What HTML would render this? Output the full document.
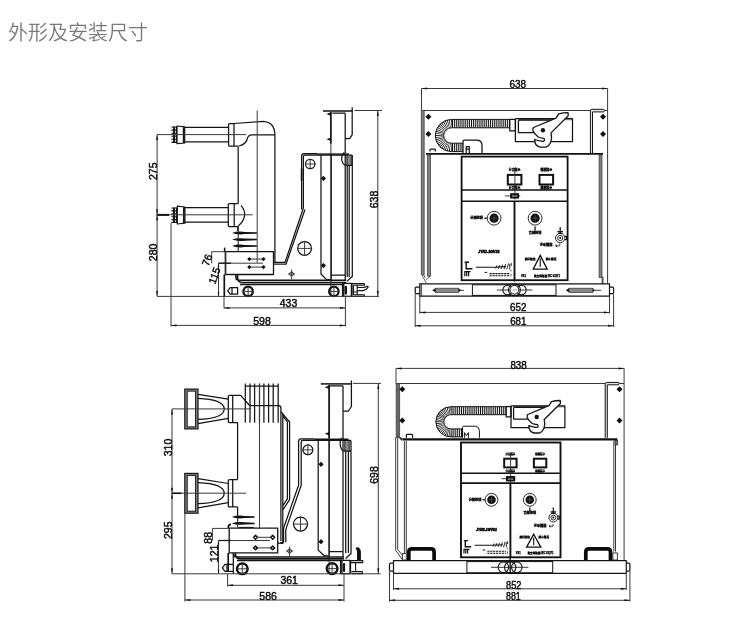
<!DOCTYPE html>
<html lang="zh">
<head>
<meta charset="utf-8">
<title>外形及安装尺寸</title>
<style>
html,body{margin:0;padding:0;background:#fff;}
body{width:730px;height:620px;overflow:hidden;position:relative;font-family:"Liberation Sans","Noto Sans CJK SC",sans-serif;}
h1{position:absolute;left:7.5px;top:18.8px;margin:0;font-size:20px;line-height:28px;font-weight:350;color:#7a7a7a;letter-spacing:0;white-space:nowrap;will-change:transform;}
svg{position:absolute;left:0;top:0;will-change:transform;}
.k{fill:none;stroke:#141414;stroke-width:1.25;stroke-linecap:butt;stroke-linejoin:round;}
.t{fill:none;stroke:#3a3a3a;stroke-width:1;}
.g{fill:none;stroke:#3a3a3a;stroke-width:1;}
.h{fill:none;stroke:#111;stroke-width:.55;}
.m{font-family:"Liberation Sans","Noto Sans CJK SC",sans-serif;font-size:3.2px;font-weight:700;fill:#000;stroke:#000;stroke-width:.25;text-anchor:middle;}
.b{fill:none;stroke:#111;stroke-width:1.7;}
.f{fill:#111;stroke:none;}
.d{font-family:"Liberation Sans",sans-serif;font-size:10.5px;fill:#0a0a0a;stroke:#0a0a0a;stroke-width:.42;text-anchor:middle;}
</style>
</head>
<body>
<h1>外形及安装尺寸</h1>
<svg width="730" height="620" viewBox="0 0 730 620">
<!-- ================= VIEW 1 : top-left side view ================= -->
<g id="v1">
<!-- upper arm -->
<path class="k" d="M171.4 127.0H177 M171.4 130.1H177 M171.4 133.2H177 M171.4 136.3H177 M171.4 139.3H177 M171.4 142.4H177 M176.4 126.6V142.8" style="stroke-width:1.1"/>
<path class="b" d="M174 126.8V142.6" style="stroke-width:1.9"/>
<path class="k" d="M177 126L184.7 126.8V143L177 143.7Z M183.4 126.7V143.1"/>
<path class="k" d="M184.7 127.4H228.6 M184.7 141.8H228.6"/>
<path class="k" d="M234 123.5H229.6Q228.6 123.5 228.6 124.5V145.2Q228.6 146.2 229.6 146.2H238.2 M234 123.5V146.2"/>
<path class="k" d="M234 123.5L263 121.3Q274.6 122 274.9 134.5V263"/>
<path class="k" d="M239 146Q246 144 247.2 139Q248 135 252 134.9H274.9"/>
<path class="k" d="M238.2 146.2V203.5"/>
<!-- lower arm -->
<path class="k" d="M171.4 208.0H177.3 M171.4 210.9H177.3 M171.4 213.8H177.3 M171.4 216.7H177.3 M171.4 219.6H177.3 M171.4 222.4H177.3 M176.5 207.6V222.8" style="stroke-width:1.1"/>
<path class="b" d="M174 207.8V222.6" style="stroke-width:1.9"/>
<path class="k" d="M177.3 206.2L184.9 207V223.2L177.3 224Z M183.6 206.9V223.3"/>
<path class="k" d="M184.9 207.6H228.3 M184.9 222.1H228.3"/>
<path class="k" d="M238.3 203.5H229.3Q228.3 203.5 228.3 204.5V225.5Q228.3 226.5 229.3 226.5H237.8 M234.2 203.5V226.5"/>
<path class="k" d="M241 205.3Q245.4 210.5 244.6 215.6Q243.6 221.6 238.3 225.8"/>
<path class="k" d="M237.8 226.5V231"/>
<!-- spring -->
<path class="f" d="M232.1 233Q237.1 230.9 245.1 231.9L256.9 232.25V233.75L245.1 234.1Q237.1 235.1 232.1 233Z"/>
<path class="f" d="M232.1 239.6Q237.1 237.5 245.1 238.5L256.9 238.85V240.35L245.1 240.7Q237.1 241.7 232.1 239.6Z"/>
<path class="f" d="M232.1 246Q237.1 243.9 245.1 244.9L256.9 245.25V246.75L245.1 247.1Q237.1 248.1 232.1 246Z"/>
<path class="k" d="M238.2 226V251.5" style="stroke-width:1"/>
<!-- centre lines -->
<path class="t" d="M157.1 134.6H246 M157.1 214.8H252.7 M257.2 110.5V262.8 M330.9 143V296"/>
<path class="k" d="M156.6 214.9H169" style="stroke-width:2"/>
<!-- box 76/115 -->
<rect class="k" x="225.3" y="251.7" width="48.2" height="22.8" style="stroke-width:1.3"/>
<path class="t" d="M211.7 251.7H225.3 M211.7 251.7V263.4 M218.5 263.2H263 M218.5 263.2V296.4 M225.9 251.7V274.5 M249.3 259.1H263.5 M249.3 267.1H263.5"/>
<path class="k" d="M218.5 263.2H231"/>
<path class="f" d="M249.3 257l2.1 2.1-2.1 2.1-2.1-2.1z M263.5 257l2.1 2.1-2.1 2.1-2.1-2.1z M249.3 265l2.1 2.1-2.1 2.1-2.1-2.1z M263.5 265l2.1 2.1-2.1 2.1-2.1-2.1z"/>
<path class="b" d="M224.6 247.6V251.8" style="stroke-width:1.5"/>
<!-- link from box to mechanism -->
<path class="k" d="M273.5 262.4H285 L303.4 208 M273.5 264.2H286 L305 209.5"/>
<!-- mechanism housing -->
<path class="k" d="M303.4 208V156.5Q303.4 155.2 304.8 155.2H352.1 M301.6 209.5V156Q301.6 153.6 304 153.6H317"/>
<path class="b" d="M317 154.1H349" style="stroke-width:1.4"/>
<path class="b" d="M301.6 168.5V180.6"/>
<circle class="k" cx="310.2" cy="164" r="4.7"/>
<path class="t" d="M305 164H315.4 M310.2 158.8V169.2"/>
<circle class="k" cx="304.6" cy="248.4" r="6.9"/>
<path class="t" d="M297 248.4H312.2 M304.6 240.8V256"/>
<circle class="t" cx="291.6" cy="274" r="2"/>
<path class="t" d="M288 274H295.2 M291.6 269.5V279.5"/>
<path class="k" d="M321 155.2V274L326.5 279.6H331 M331.2 155V279.6 M331.2 275.2H345"/>
<path class="f" d="M323.4 175.8l2.6 2.6-2.6 2.6-2.6-2.6z M323.4 263l2.6 2.6-2.6 2.6-2.6-2.6z"/>
<path class="k" d="M345.2 113.2V281 M347.2 165.3V277 M349.2 165.3V277 M352.3 155V276.5L346.8 281.4"/>
<path class="h" d="M346.3 155.6V165.3 M347.6 155.6V165.3 M348.9 155.6V165.3 M350.2 155.6V165.3 M351.4 155.6V165.3" style="stroke-width:.8"/>
<path class="k" d="M344.2 152.4Q341 156 341.8 160Q342.6 165.3 346.5 165.3H352.3"/>
<!-- top bracket -->
<path class="b" d="M323 111H352.6" style="stroke-width:1.5"/>
<path class="b" d="M330.9 112V143.5"/>
<path class="k" d="M352.2 107.3V134.7L349.7 138.7H345.4 M332.3 113.2H345.4"/>
<path class="f" d="M330.9 112.3v3.6l-4.4-1.8z M330.9 137.5v3.6l-4.4-1.8z"/>
<!-- chassis -->
<path class="b" d="M224.3 274.5V296.4"/>
<path class="k" d="M235.8 274.5V277Q235.8 280.2 239 280.2H346 M237.6 274.5V277.5Q237.6 282.4 242 282.4H346 M240 284.6H343" style="stroke-width:1.5"/>
<path class="k" d="M227.7 290.8L230.2 287.6H237.6V294.2H230.2Z M232 287.6V294.2"/>
<circle class="b" cx="248.1" cy="291.4" r="4.7" style="stroke-width:2.3"/>
<path class="t" d="M243 291.4H253.2 M248.1 286.3V296.5"/>
<circle class="b" cx="333.9" cy="291.4" r="4.7" style="stroke-width:2.3"/>
<path class="t" d="M329 291.4H339 M333.9 286.3V296.5"/>
<path class="k" d="M342.5 283.4H351.4V296.3H342.5Z M343.8 283.4V296.3"/>
<path class="b" d="M345.8 287V293.4" style="stroke-width:2.4;stroke-linecap:round"/>
<path class="k" d="M352 283.6H364.4V285.3H353.4 M352 283.6V296.5H364.4V294.9H353.4 M353.4 285.3V294.9 M357.2 285.3V294.9 M353.4 292H357.2 M357.2 287.5H362.5Q365.5 287.3 367 286.2Q368.6 286 368 287.4Q366.4 290 363 290.6H357.2" style="stroke-width:1.1"/>
<!-- ground + dims -->
<path class="t" d="M157.1 296.4H379 M157.1 134.6V296.4 M171 223V326.5 M224 296V308.5 M345.4 296V326.5 M224 307.9H345.4 M171 325.4H345.4 M354.5 110.5H382 M377.8 110.5V296.4"/>
<path class="f" d="M157.1 134.6l-1 5.5h2z M157.1 214.8l-1-5.5h2z M157.1 214.8l-1 5.5h2z M157.1 296.4l-1-5.5h2z M224 307.9l5.5-1v2z M345.4 307.9l-5.5-1v2z M171 325.4l5.5-1v2z M345.4 325.4l-5.5-1v2z M377.8 110.5l-1 5.5h2z M377.8 296.4l-1-5.5h2z M218.5 263.2l-.9 4h1.8z M218.5 296.4l-.9-4h1.8z"/>
<text class="d" transform="translate(156.7 171.2) rotate(-90)">275</text>
<text class="d" transform="translate(156.7 252.4) rotate(-90)">280</text>
<text class="d" transform="translate(378.2 199.5) rotate(-90)">638</text>
<text class="d" x="288.5" y="307.4">433</text>
<text class="d" x="262" y="324.8">598</text>
<text class="d" transform="translate(210.6 261.2) rotate(-70)">76</text>
<text class="d" transform="translate(217.8 276.8) rotate(-70)">115</text>
</g>

<!-- ================= VIEW 2 : top-right front view ================= -->
<g id="v2">
<!-- outer frame / side plates -->
<path class="t" d="M421.5 110.5H607.6 M607.6 88.5V283.6 M421.5 88.5V110.5"/>
<path d="M421.3 110.5H424.2V274.6H421.3Z" fill="#808080" stroke="#333" stroke-width=".7"/>
<path class="g" d="M421.8 274.6L426.2 283 M423.6 274.6L425.2 278 M430 276.3L426.2 279.8" style="stroke-width:.8"/>
<path d="M427.4 155H430.5V276.3H427.4Z" fill="#808080" stroke="#333" stroke-width=".7"/>
<path d="M599.1 155H602V276.9H603.1V283.7H602V277.6H599.1Z" fill="#808080" stroke="#333" stroke-width=".7"/>
<path class="f" d="M428.4 113.7l3 3-3 3-3-3z M428.4 131.0l3 3-3 3-3-3z M603.0 113.7l3 3-3 3-3-3z M603.0 131.0l3 3-3 3-3-3z"/>
<path d="M590.4 153V110.8Q590.4 109.3 591.9 109.3H603.3Q604.4 109.3 604.4 110.6Q604.4 111.9 603.3 111.9H592.5V153" fill="#e4e4e4" stroke="#141414" stroke-width="1"/>
<path class="k" d="M430 151.6V149.6Q430 149 430.8 149H434.6Q435.3 149 435.3 149.8V151.6"/>
<!-- hose -->
<path class="h" d="M452.5 119.4V127.8M454.4 119.4V127.8M456.3 119.4V127.8M458.2 119.4V127.8M460.1 119.4V127.8M462.0 119.4V127.8M463.9 119.4V127.8M465.8 119.4V127.8M467.7 119.4V127.8M469.6 119.4V127.8M471.5 119.4V127.8M473.4 119.4V127.8M475.3 119.4V127.8M477.2 119.4V127.8M479.1 119.4V127.8M481.0 119.4V127.8M482.9 119.4V127.8M484.8 119.4V127.8M486.7 119.4V127.8M488.6 119.4V127.8M490.5 119.4V127.8M492.4 119.4V127.8M494.3 119.4V127.8M496.2 119.4V127.8M498.1 119.4V127.8M500.0 119.4V127.8M501.9 119.4V127.8M503.8 119.4V127.8M505.7 119.4V127.8M507.6 119.4V127.8M509.5 119.4V127.8M452.5 143.2V151.6M454.4 143.2V151.6M456.3 143.2V151.6M458.2 143.2V151.6M460.1 143.2V151.6M462.0 143.2V151.6" style="stroke-width:1.0"/>
<path class="f" d="M451.20 127.80L450.92 119.40L451.88 119.40L451.60 127.80ZM450.20 127.89L448.82 119.60L449.77 119.48L450.59 127.84ZM449.21 128.11L446.77 120.07L447.70 119.82L449.60 128.01ZM448.27 128.46L444.80 120.81L445.68 120.44L448.64 128.31ZM447.38 128.93L442.93 121.80L443.77 121.32L447.72 128.73ZM446.55 129.51L441.22 123.02L441.98 122.43L446.87 129.27ZM445.81 130.20L439.68 124.45L440.35 123.78L446.10 129.91ZM445.17 130.97L438.33 126.08L438.92 125.32L445.41 130.65ZM444.63 131.82L437.22 127.87L437.70 127.03L444.83 131.48ZM444.21 132.74L436.34 129.78L436.71 128.90L444.36 132.37ZM443.91 133.70L435.72 131.80L435.97 130.87L444.01 133.31ZM443.74 134.69L435.38 133.87L435.50 132.92L443.79 134.30ZM443.70 135.70L435.30 135.98L435.30 135.02L443.70 135.30ZM443.79 136.70L435.50 138.08L435.38 137.13L443.74 136.31ZM444.01 137.69L435.97 140.13L435.72 139.20L443.91 137.30ZM444.36 138.63L436.71 142.10L436.34 141.22L444.21 138.26ZM444.83 139.52L437.70 143.97L437.22 143.13L444.63 139.18ZM445.41 140.35L438.92 145.68L438.33 144.92L445.17 140.03ZM446.10 141.09L440.35 147.22L439.68 146.55L445.81 140.80ZM446.87 141.73L441.98 148.57L441.22 147.98L446.55 141.49ZM447.72 142.27L443.77 149.68L442.93 149.20L447.38 142.07ZM448.64 142.69L445.68 150.56L444.80 150.19L448.27 142.54ZM449.60 142.99L447.70 151.18L446.77 150.93L449.21 142.89ZM450.59 143.16L449.77 151.52L448.82 151.40L450.20 143.11ZM451.60 143.20L451.88 151.60L450.92 151.60L451.20 143.20Z"/>
<path class="k" d="M509.6 119.4H451.4A16.1 16.1 0 0 0 451.4 151.6H463.2 M509.6 127.8H451.4A7.7 7.7 0 0 0 451.4 143.2H463.2" style="stroke-width:1"/>
<!-- hose connector -->
<path class="k" d="M463 153V141.6Q463 140.1 464.5 140.1H477.5Q482 140.6 482 145.5V153 M466.2 153V146.5H469.3V153 M466.2 149.2H469.3"/>
<!-- mechanism on top -->
<rect class="k" x="509.8" y="119.4" width="5.6" height="11.5"/>
<rect x="518.4" y="118.7" width="54" height="1.6" fill="#9a9a9a"/>
<path class="k" d="M515.4 118.7H554.4 M566 118.7H572.5V141.6H551.1 M535.3 141.6H515.4V118.7 M518.4 120.2V132.5H534.6 M518.4 120.2H551"/>
<path class="k" d="M533.5 127.5L556 118.2L558.7 113.8Q563 112.7 568 112.6Q568.6 114.4 568 116L551 132.9L551.6 137.9L550.5 142.8Q549 146 546.1 147.2H540.1Q536 146 535.1 142.8L534.6 139.5Q538 140.8 541.7 141.2Q544.5 141.6 544.5 140Q544.4 138.6 543.9 138.4Q539.5 138 537.9 136.8Q534.2 133.6 532.9 130.8Q532.5 128.6 533.5 127.5Z" style="fill:#fff;stroke-width:1.3"/>
<circle class="f" cx="542.9" cy="130.2" r="2.2"/>
<!-- top rail of lower frame -->
<path class="b" d="M426 153.9H603" style="stroke-width:1.9"/>
<!-- front panel -->
<rect class="b" x="461.6" y="156.6" width="106" height="123.6" style="stroke-width:1.8"/>
<path class="b" d="M461.6 190H567.6 M461.6 201.3H567.6" style="stroke-width:1.6"/>
<path class="b" d="M514.5 201.3V281.4" style="stroke-width:1.9"/>
<rect class="b" x="507.8" y="174.9" width="13.6" height="9.6" style="stroke-width:2"/>
<rect class="b" x="539.5" y="174.9" width="13.6" height="9.6" style="stroke-width:2"/>
<path class="t" d="M514.9 168V199.5 M505 195.9H520.2"/>
<rect class="b" x="511.1" y="194.2" width="7" height="3.4" style="stroke-width:1.9"/>
<text class="m" style="font-size:2.9px" x="514.6" y="170.8">分合指示</text>
<text class="m" style="font-size:2.9px" x="514.6" y="188.7">分合指示</text>
<text class="m" style="font-size:2.9px" x="546.3" y="170.8">储能指示</text>
<text class="m" style="font-size:2.9px" x="546.3" y="188.7">储能指示</text>
<!-- push buttons -->
<circle class="k" cx="494.1" cy="218.2" r="6.9" style="stroke-width:.9"/>
<circle class="f" cx="494.1" cy="218.2" r="4.6"/>
<path d="M491.2 218.2H497 M494.1 215.3V221.1" stroke="#666" stroke-width=".6"/>
<circle class="k" cx="535.1" cy="218.2" r="6.9" style="stroke-width:.9"/>
<circle class="f" cx="535.1" cy="218.2" r="4.6"/>
<path d="M532.2 218.2H538 M535.1 215.3V221.1" stroke="#666" stroke-width=".6"/>
<text class="m" x="476.6" y="219.3">分闸按钮</text>
<path class="k" d="M484.2 218.2H487"/>
<path class="k" d="M535.1 226.5V230.5"/>
<text class="m" x="535.1" y="233.8">合闸按钮</text>
<!-- key lock -->
<circle class="k" cx="560.2" cy="238" r="4.7" style="stroke-width:.9"/>
<circle class="k" cx="560.2" cy="238" r="2.6" style="stroke-width:.9"/>
<circle class="f" cx="560.2" cy="238" r="1"/>
<path class="k" d="M560.2 227V233 M557.4 231.6H563 M558 233.4H562.4 M564.8 236.4H566.6V239.6H564.8"/>
<text class="m" x="546" y="246.4">手动储能</text>
<path class="k" d="M555.6 245.8H559.8V243.4 M555.6 245.8L557.2 244.6 M555.6 245.8L557.2 247" style="stroke-width:.8"/>
<!-- labels -->
<text class="m" x="489" y="252.9" style="font-size:3px;font-style:italic;stroke-width:.4" textLength="21.6" lengthAdjust="spacingAndGlyphs">JYN2-10/VS1</text>
<path class="b" d="M464.6 262.2H469 M466.2 262.2V268.8H472.4" style="stroke-width:1.4"/>
<path class="b" d="M464.8 271.4V276.2 M466.7 271.4V276.2 M468.6 271.4V276.2 M464.4 271.6H470.6" style="stroke-width:1.2"/>
<path class="b" d="M476 267.2H495L506 266.6" style="stroke-width:1.1"/>
<path class="b" d="M495.6 268.6L497 265.4 M498.4 268.8L499.8 265 M501.2 269L502.6 264.6 M504 269.2L505.6 264 M506.8 269.4L508.6 263.4 M509.8 264V269.6 M511.2 263V266" style="stroke-width:.9"/>
<path class="b" d="M484.6 272.4H487.2" style="stroke-width:1"/>
<path class="b" d="M489.6 273.6H509.4 M489.6 275.8H509.4" style="stroke-width:1.1;stroke-dasharray:2.2 .7"/>
<path class="b" d="M511 270V271.4 M511 274V276.4" style="stroke-width:.7"/>
<path class="b" d="M540.2 255.4L547.2 269.2H533.2Z" style="stroke-width:1.3"/>
<path class="b" d="M540.2 258.6V267" style="stroke-width:1.1"/>
<text class="m" x="530" y="260" style="font-size:2.7px">高压危险</text>
<text class="m" x="551" y="260" style="font-size:2.7px">禁止靠近</text>
<text class="m" x="523.4" y="277" style="font-size:2.6px">VS1</text>
<text class="m" x="547" y="277" style="font-size:2.6px">真空断路器 IEC 62271</text>
<!-- base -->
<path class="k" d="M419.8 283.8H609.5V296.2H419.8Z" style="stroke-width:1.2"/>
<path d="M419.4 283.8H421.6V296.2H419.4Z" fill="#777" stroke="#222" stroke-width=".6"/>
<path class="k" d="M419.8 287.1H416.4Q415.2 287.1 415.2 288.3V292.5Q415.2 293.7 416.4 293.7H419.8 M609.5 287.1H612.4Q613.6 287.1 613.6 288.3V292.5Q613.6 293.7 612.4 293.7H609.5"/>
<rect class="b" x="472.4" y="284.8" width="83.6" height="10.6" style="stroke-width:1"/>
<path class="f" d="M432.2 290.3L435.8 288V292.6Z M461.3 290.3L458.4 288V292.6Z M565.8 290.3L569.2 288V292.6Z M595 290.3L592.6 288V292.6Z"/>
<rect x="435.6" y="288.2" width="23" height="4.2" fill="#8a8a8a" stroke="#333" stroke-width=".7"/>
<rect x="569" y="288.2" width="23.8" height="4.2" fill="#8a8a8a" stroke="#333" stroke-width=".7"/>
<path class="t" d="M461 290.3H464 M594.8 290.3H601"/>
<path class="t" d="M497 290H532.3"/>
<circle class="k" cx="507.6" cy="290" r="4.8" style="stroke-width:1.1"/>
<circle class="k" cx="521.4" cy="290" r="4.8" style="stroke-width:1.1"/>
<circle class="k" cx="514.4" cy="289.8" r="6" style="stroke-width:1.1"/>
<circle class="k" cx="514.4" cy="289.8" r="4.4" style="stroke-width:1;fill:#fff"/>
<path class="t" d="M511.6 290H517.2" style="stroke:#888;stroke-width:.7"/>
<!-- dims -->
<path class="t" d="M421.5 88.5H607.6 M419.8 296.2V313.5 M609.5 296.2V313.5 M415.2 293.7V327 M613.6 293.7V327 M419.8 312.4H609.5 M415.2 325.8H613.6"/>
<path class="f" d="M421.5 88.5l5.5-1v2z M607.6 88.5l-5.5-1v2z M419.8 312.4l5.5-1v2z M609.5 312.4l-5.5-1v2z M415.2 325.8l5.5-1v2z M613.6 325.8l-5.5-1v2z"/>
<text class="d" x="517.8" y="88.2" textLength="16.6" lengthAdjust="spacingAndGlyphs">638</text>
<text class="d" x="518.3" y="311.4" textLength="16.4" lengthAdjust="spacingAndGlyphs">652</text>
<text class="d" x="518.3" y="324.9" textLength="16.2" lengthAdjust="spacingAndGlyphs">681</text>
</g>

<!-- ================= VIEW 3 : bottom-left side view ================= -->
<g id="v3">
<!-- upper contact -->
<rect x="184.8" y="389.1" width="13.2" height="39.8" fill="#8a8a8a" stroke="#141414" stroke-width="1.2"/>
<rect x="187.2" y="391.1" width="8.4" height="35.8" fill="#fff" stroke="#141414" stroke-width="1"/>
<path class="k" d="M198 394.4L228.3 399.2 M198 423.6L228.3 418.4 M198 398.3Q224.2 399.4 224.2 408.9Q224.2 418.4 198 419.4"/>
<path class="k" d="M229.3 395.3Q228.3 395.3 228.3 396.3V421.6Q228.3 422.6 229.3 422.6H237.6 M232.7 395.3V422.6"/>
<path class="k" d="M229.3 395.3H240.6L249.6 405.5H278.5Q280.9 405.5 280.9 408V541 M237.6 422.6V479.6"/>
<path class="k" d="M245.3 383.6V422.7 M250 383.6V422.7 M254.6 383.6V422.7 M259.5 383.6V422.7 M263.9 383.6V422.7 M268.6 383.6V422.7 M273.2 383.6V422.7 M278.2 383.6V422.7 M244.8 386H278.7"/>
<!-- lower contact -->
<rect x="184.8" y="473.4" width="13.2" height="39.8" fill="#8a8a8a" stroke="#141414" stroke-width="1.2"/>
<rect x="187.2" y="475.4" width="8.4" height="35.8" fill="#fff" stroke="#141414" stroke-width="1"/>
<path class="k" d="M198 478.7L228.3 483.5 M198 507.9L228.3 502.7 M198 482.6Q224.2 483.7 224.2 493.2Q224.2 502.7 198 503.7"/>
<path class="k" d="M229.3 479.6Q228.3 479.6 228.3 480.6V505.9Q228.3 506.9 229.3 506.9H237.6 M232.7 479.6V506.9"/>
<path class="k" d="M229.3 479.6H237.6 M237.6 506.9V515"/>
<!-- spring -->
<path class="f" d="M231.8 517Q236.8 514.9 244.8 515.9L254.6 516.25V517.75L244.8 518.1Q236.8 519.1 231.8 517Z"/>
<path class="f" d="M231.8 523.4Q236.8 521.3 244.8 522.3L254.6 522.65V524.15L244.8 524.5Q236.8 525.5 231.8 523.4Z"/>
<path class="k" d="M237.7 515V528.2 M239 527.4H254" style="stroke-width:1"/>
<path class="b" d="M231 524.4Q228.2 524.4 228.2 528.2"/>
<!-- centre lines -->
<path class="t" d="M172 408.9H251.2 M172 493.2H246.2 M259.5 384.6V528 M329.1 438.6V573.8"/>
<path class="k" d="M171.6 493.3H181.4" style="stroke-width:1.5"/>
<!-- box 88/121 -->
<rect class="k" x="229.2" y="528.2" width="48.5" height="24.7" style="stroke-width:1.3"/>
<path class="t" d="M212.4 528.4H229.2 M212.4 528.4V540.5 M218.5 540.5H270 M218.5 540.5V573.8 M255.5 537.3H272.7 M255.5 547.9H272.7"/>
<path class="k" d="M218.5 540.5H231"/>
<path class="k" d="M255.5 535.4l1.9 1.9-1.9 1.9-1.9-1.9z M272.7 535.4l1.9 1.9-1.9 1.9-1.9-1.9z M255.5 546.0l1.9 1.9-1.9 1.9-1.9-1.9z M272.7 546.0l1.9 1.9-1.9 1.9-1.9-1.9z" style="stroke-width:1.5;fill:#fff"/>
<!-- cover on column -->
<path class="k" d="M280.9 411.6L289.6 422V499.6L282.8 510 M282.3 415.4L287.4 421.8V498.6L282.8 506 M282.8 413V543"/>
<path class="b" d="M280.2 543H283.4" style="stroke-width:2"/>
<path class="k" d="M277.7 543.2H280.4"/>
<!-- mechanism housing -->
<path class="k" d="M301.2 485.3V442.2Q301.2 440.4 302.8 440.4H351 M298.6 485.3V441.6Q298.6 438.8 301.4 438.8H314.5 M298.6 485.3L283.6 528V542.2 M301.2 485.3L285.8 529.4V542.2"/>
<path class="b" d="M314.5 439.2H348.4" style="stroke-width:1.4"/>
<circle class="k" cx="307.9" cy="449.8" r="4.9"/>
<path class="t" d="M302.4 449.8H313.4 M307.9 444.3V455.3"/>
<circle class="k" cx="300.5" cy="524.1" r="7"/>
<path class="t" d="M292.8 524.1H308.2 M300.5 516.4V531.8"/>
<circle class="t" cx="289.6" cy="551" r="2"/>
<path class="t" d="M286 551H293.2 M289.6 546.5V556.5"/>
<path class="k" d="M318.2 440.4V550.1L324.2 555.8H329 M329.1 440.4V555.8 M329.1 551.7H342.8"/>
<path class="f" d="M321 461.7l2.6 2.6-2.6 2.6-2.6-2.6z M321 539.1l2.6 2.6-2.6 2.6-2.6-2.6z"/>
<path class="k" d="M343 385.7V557 M345.7 451V553 M348.4 451V553 M351 440.4V553.5L345.6 558.5"/>
<path class="h" d="M344.4 440.6V451 M345.7 440.6V451 M347 440.6V451 M348.3 440.6V451 M349.6 440.6V451" style="stroke-width:.8"/>
<path class="k" d="M341.4 437.7Q339.6 441 340.2 445Q341.2 451 344.4 451H351"/>
<!-- top bracket -->
<path class="b" d="M320.8 383.9H351.9" style="stroke-width:1.5"/>
<path class="b" d="M329.1 385V438.6"/>
<path class="k" d="M351.4 380.4V406.5L348.4 411H343 M330 385.8H343"/>
<path class="f" d="M329.1 385.4v3.6l-4.4-1.8z M329.1 432v3.6l-4.4-1.8z"/>
<!-- chassis -->
<path class="b" d="M228.2 553V572" style="stroke-width:1.6"/>
<path class="k" d="M233.6 553V554Q233.6 557 236.6 557H344 M235.6 553V554.6Q235.6 558.8 240 558.8H344 M237 560.6H341.8" style="stroke-width:1.5"/>
<path class="k" d="M222.3 567.8L225 564.4H233.3V571.4H225Z M227 564.4V571.4 M233.3 553V573.8"/>
<circle class="b" cx="242.3" cy="568.8" r="5.3" style="stroke-width:2.5"/>
<path class="t" d="M237 568.8H247.6 M242.3 563.5V574.1"/>
<circle class="b" cx="332.1" cy="568.6" r="5.3" style="stroke-width:2.5"/>
<path class="t" d="M327 568.6H337.4 M332.1 563.3V573.9"/>
<path class="k" d="M340.6 560.4H350V573.6H340.6Z M342 560.4V573.6"/>
<path class="b" d="M344 564.2V571" style="stroke-width:2.2;stroke-linecap:round"/>
<path class="k" d="M350 560.6H362.8V562.6H351 M351.5 573.6H362.4V571.6H351.5 M350.6 560.6V573.6 M355.6 562.6V571.6" style="stroke-width:1.1"/>
<path class="f" d="M357 560.4V551.4Q356.8 549.6 355.7 548.8Q355.5 547 357.6 547.3Q360.6 548.2 360.9 551.8V560.4Z"/>
<!-- ground + dims -->
<path class="t" d="M172 573.8H380.6 M172 408.9V573.8 M184.9 512.8V601.5 M227.6 573.8V586.5 M344 573.8V601.5 M227.6 585.3H344 M184.9 600H344 M352.8 383.4H381 M378.3 383.4V573.8"/>
<path class="f" d="M172 408.9l-1 5.5h2z M172 493.2l-1-5.5h2z M172 493.2l-1 5.5h2z M172 573.8l-1-5.5h2z M227.6 585.3l5.5-1v2z M344 585.3l-5.5-1v2z M184.9 600l5.5-1v2z M344 600l-5.5-1v2z M378.3 383.4l-1 5.5h2z M378.3 573.8l-1-5.5h2z M218.5 540.5l-.9 4h1.8z M218.5 573.8l-.9-4h1.8z"/>
<text class="d" transform="translate(171.8 447.5) rotate(-90)">310</text>
<text class="d" transform="translate(171.8 530.2) rotate(-90)">295</text>
<text class="d" transform="translate(377.6 475) rotate(-90)">698</text>
<text class="d" x="289.2" y="584.3">361</text>
<text class="d" x="268.1" y="600.2">586</text>
<text class="d" transform="translate(212.4 537.8) rotate(-90)">88</text>
<text class="d" transform="translate(218.2 553.4) rotate(-90)">121</text>
</g>

<!-- ================= VIEW 4 : bottom-right front view ================= -->
<g id="v4">
<!-- outer frame / side plates -->
<path class="t" d="M396 383.5H624.1 M624.1 368.4V560.6 M396 368.4V383.5"/>
<path d="M396.2 383.5H399.6V437.5H396.2Z" fill="#666" stroke="#333" stroke-width=".7"/>
<path class="g" d="M395.7 437.5V550.3L402.4 559.6 M397.7 437.5V549.6L402.6 555.4"/>
<path class="g" d="M404.4 441V553 M406.3 441V553 M402.4 553.5H406.3V560H402.4Z"/>
<path class="g" d="M613.8 441V551.6 M615.5 441V551.6 M612.9 552.9H617.4V560H612.9Z"/>
<path class="f" d="M402.3 386.2l3 3-3 3-3-3z M402.3 417.5l3 3-3 3-3-3z M619.5 386.2l3 3-3 3-3-3z M619.5 417.5l3 3-3 3-3-3z"/>
<path d="M605.2 437.8V384Q605.2 382.4 606.8 382.4H618Q619.2 382.4 619.2 383.6Q619.2 384.8 618 384.8H607.3V437.8" fill="#e4e4e4" stroke="#141414" stroke-width="1"/>
<path class="k" d="M406.4 437.8V435.2Q406.4 434.3 407.3 434.3H411.7Q412.6 434.3 412.6 435.2V437.8"/>
<path class="k" d="M399.8 437.5L402 440.4" />
<rect class="k" x="615" y="440.4" width="2.6" height="4.6" style="fill:#777;stroke-width:.7"/>
<!-- hose -->
<path class="h" d="M452.0 406.7V414.7M453.9 406.7V414.7M455.8 406.7V414.7M457.7 406.7V414.7M459.6 406.7V414.7M461.5 406.7V414.7M463.4 406.7V414.7M465.3 406.7V414.7M467.2 406.7V414.7M469.1 406.7V414.7M471.0 406.7V414.7M472.9 406.7V414.7M474.8 406.7V414.7M476.7 406.7V414.7M478.6 406.7V414.7M480.5 406.7V414.7M482.4 406.7V414.7M484.3 406.7V414.7M486.2 406.7V414.7M488.1 406.7V414.7M490.0 406.7V414.7M491.9 406.7V414.7M493.8 406.7V414.7M495.7 406.7V414.7M497.6 406.7V414.7M499.5 406.7V414.7M501.4 406.7V414.7M503.3 406.7V414.7M505.2 406.7V414.7M452.0 428.9V436.9M453.9 428.9V436.9M455.8 428.9V436.9M457.7 428.9V436.9M459.6 428.9V436.9M461.5 428.9V436.9" style="stroke-width:1.0"/>
<path class="f" d="M450.70 414.70L450.42 406.70L451.38 406.70L451.10 414.70ZM449.77 414.79L448.45 406.89L449.40 406.77L450.17 414.73ZM448.87 414.99L446.53 407.34L447.46 407.09L449.26 414.89ZM448.00 415.32L444.68 408.03L445.56 407.67L448.37 415.16ZM447.18 415.75L442.93 408.96L443.77 408.48L447.52 415.55ZM446.42 416.29L441.33 410.11L442.09 409.53L446.74 416.05ZM445.74 416.92L439.88 411.46L440.56 410.78L446.02 416.64ZM445.15 417.64L438.63 412.99L439.21 412.23L445.39 417.32ZM444.65 418.42L437.58 414.67L438.06 413.83L444.85 418.08ZM444.26 419.27L436.77 416.46L437.13 415.58L444.42 418.90ZM443.99 420.16L436.19 418.36L436.44 417.43L444.09 419.77ZM443.83 421.07L435.87 420.30L435.99 419.35L443.89 420.67ZM443.80 422.00L435.80 422.28L435.80 421.32L443.80 421.60ZM443.89 422.93L435.99 424.25L435.87 423.30L443.83 422.53ZM444.09 423.83L436.44 426.17L436.19 425.24L443.99 423.44ZM444.42 424.70L437.13 428.02L436.77 427.14L444.26 424.33ZM444.85 425.52L438.06 429.77L437.58 428.93L444.65 425.18ZM445.39 426.28L439.21 431.37L438.63 430.61L445.15 425.96ZM446.02 426.96L440.56 432.82L439.88 432.14L445.74 426.68ZM446.74 427.55L442.09 434.07L441.33 433.49L446.42 427.31ZM447.52 428.05L443.77 435.12L442.93 434.64L447.18 427.85ZM448.37 428.44L445.56 435.93L444.68 435.57L448.00 428.28ZM449.26 428.71L447.46 436.51L446.53 436.26L448.87 428.61ZM450.17 428.87L449.40 436.83L448.45 436.71L449.77 428.81ZM451.10 428.90L451.38 436.90L450.42 436.90L450.70 428.90Z"/>
<path class="k" d="M506.1 406.7H450.9A15.1 15.1 0 0 0 450.9 436.90000000000003H462.2 M506.1 414.7H450.9A7.1 7.1 0 0 0 450.9 428.90000000000003H462.2" style="stroke-width:1"/>
<!-- hose connector -->
<path class="k" d="M462.5 437.8V427.6Q462.5 426.2 464 426.2H475.4Q479.4 426.6 479.4 430.6V437.8 M464.4 437.8V432.6L466.4 435.6L468.4 432.6V437.8" style="stroke-width:1"/>
<!-- mechanism on top -->
<rect class="k" x="506.2" y="406.6" width="4.8" height="10.2"/>
<rect x="513.6" y="405.8" width="51.2" height="1.7" fill="#9a9a9a"/>
<path class="k" d="M511 405.8H548.3 M558.8 405.8H564.9V427.7H543.8 M529.6 427.7H511V405.8 M513.6 407.4V419.1H528.7 M513.6 407.4H545"/>
<path class="k" d="M527.8 414.5L548.9 405.7L551.5 401.6Q555.5 400.6 560.2 400.5Q560.8 402.1 560.2 403.7L544.2 419.5L544.8 424.2L543.8 428.8Q542.3 431.9 539.6 433.0L534.0 433.0Q530.1 431.9 529.3 428.8L528.8 425.7Q532.0 427.0 535.5 427.3Q538.1 427.7 538.1 426.2Q538.0 424.9 537.5 424.7Q533.4 424.3 531.9 423.2Q528.4 420.2 527.2 417.6Q526.8 415.5 527.8 414.5Z" style="fill:#fff;stroke-width:1.3"/>
<circle class="f" cx="536.7" cy="417" r="2.2"/>
<!-- top rail of lower frame -->
<path class="b" d="M402.6 439.3H617.4" style="stroke-width:2.2"/>
<path class="g" d="M397.6 436.2Q399 438.4 402.8 438.6"/>
<!-- front panel -->
<rect class="b" x="461" y="442.5" width="99.5" height="114.8" style="stroke-width:1.9"/>
<path class="b" d="M461 473.3H560.5 M461 483.1H560.5" style="stroke-width:1.6"/>
<path class="b" d="M510.4 483.1V558" style="stroke-width:1.9"/>
<path class="b" d="M510.2 558V573.2" style="stroke-width:1.4"/>
<rect class="b" x="504.2" y="458.7" width="12.4" height="8.7" style="stroke-width:2"/>
<rect class="b" x="533.9" y="458.7" width="12.4" height="8.7" style="stroke-width:2"/>
<path class="t" d="M510.6 452.5V482 M501.6 478.7H515.4"/>
<rect class="b" x="507" y="477" width="7.2" height="3.5" style="stroke-width:1.9"/>
<text class="m" style="font-size:2.4px" x="510.4" y="455.2">分合指示</text>
<text class="m" style="font-size:2.4px" x="510.4" y="471.8">分合指示</text>
<text class="m" style="font-size:2.4px" x="540.1" y="455.2">储能指示</text>
<text class="m" style="font-size:2.4px" x="540.1" y="471.8">储能指示</text>
<!-- push buttons -->
<circle class="k" cx="491.5" cy="499.8" r="6.4" style="stroke-width:.9"/>
<circle class="f" cx="491.5" cy="499.8" r="4.3"/>
<path d="M488.8 499.8H494.2 M491.5 497.1V502.5" stroke="#666" stroke-width=".6"/>
<circle class="k" cx="529.8" cy="499.8" r="6.4" style="stroke-width:.9"/>
<circle class="f" cx="529.8" cy="499.8" r="4.3"/>
<path d="M527.1 499.8H532.5 M529.8 497.1V502.5" stroke="#666" stroke-width=".6"/>
<text class="m" x="475" y="500.9">分闸按钮</text>
<path class="k" d="M482.4 499.8H485"/>
<path class="k" d="M529.8 507.5V511"/>
<text class="m" x="529.8" y="514.4">合闸按钮</text>
<!-- key lock -->
<circle class="k" cx="553.3" cy="517.6" r="4.4" style="stroke-width:.9"/>
<circle class="k" cx="553.3" cy="517.6" r="2.4" style="stroke-width:.9"/>
<circle class="f" cx="553.3" cy="517.6" r="1"/>
<path class="k" d="M553.3 507.6V513 M550.7 511.8H556 M551.2 513.4H555.4 M557.6 516H559.2V519.2H557.6"/>
<text class="m" x="540" y="526.9">手动储能</text>
<path class="k" d="M549 526.2H553V524 M549 526.2L550.5 525.1 M549 526.2L550.5 527.3" style="stroke-width:.8"/>
<!-- labels -->
<text class="m" x="486.5" y="531.4" style="font-size:2.9px;font-style:italic;stroke-width:.4" textLength="21" lengthAdjust="spacingAndGlyphs">JYN2-10/VS1</text>
<path class="b" d="M463.8 540.6H468.0M465.3 540.6V546.7H471.2" style="stroke-width:1.4"/>
<path class="b" d="M464.0 549.1V553.6M465.8 549.1V553.6M467.6 549.1V553.6M463.6 549.3H469.5" style="stroke-width:1.2"/>
<path class="b" d="M474.5 545.2H492.4L502.7 544.7" style="stroke-width:1.1"/>
<path class="b" d="M493.0 546.5L494.3 543.5M495.6 546.7L496.9 543.2M498.2 546.9L499.5 542.8M500.9 547.1L502.4 542.2M503.5 547.3L505.2 541.7M506.3 542.2V547.4M507.6 541.3V544.1" style="stroke-width:.9"/>
<path class="b" d="M482.6 550.0H485.1" style="stroke-width:1"/>
<path class="b" d="M487.3 551.2H505.9M487.3 553.2H505.9" style="stroke-width:1.1;stroke-dasharray:2.2 .7"/>
<path class="b" d="M507.4 547.8V549.1M507.4 551.5V553.8" style="stroke-width:.7"/>
<path class="b" d="M533.7 534.2L540.8 547.2H526.6Z" style="stroke-width:1.3"/>
<path class="b" d="M533.7 537.4V545.2" style="stroke-width:1.1"/>
<text class="m" x="524.6" y="538.4" style="font-size:2.6px">高压危险</text>
<text class="m" x="543.8" y="538.4" style="font-size:2.6px">禁止靠近</text>
<text class="m" x="518.2" y="554" style="font-size:2.6px">VS1</text>
<text class="m" x="540.5" y="554" style="font-size:2.6px">真空断路器 IEC 62271</text>
<!-- base -->
<path class="k" d="M393.5 560.6H626.3V573.4H393.5Z" style="stroke-width:1.2"/>
<path class="k" d="M393.5 563.2H390.7Q389.5 563.2 389.5 564.4V570Q389.5 571.2 390.7 571.2H393.5 M626.3 563.2H628.7Q629.9 563.2 629.9 564.4V570Q629.9 571.2 628.7 571.2H626.3"/>
<rect class="b" x="466.9" y="561.6" width="85.8" height="11.2" style="stroke-width:1"/>
<path class="t" d="M491 567.3H528.4"/>
<circle class="k" cx="503.4" cy="567.3" r="5.3" style="stroke-width:1.1"/>
<circle class="k" cx="516.8" cy="567.3" r="5.3" style="stroke-width:1.1"/>
<circle class="k" cx="510.2" cy="567.3" r="5.7" style="stroke-width:1.1"/>
<!-- lifting handles -->
<path d="M408.8 560.4V552Q408.8 548.9 411.9 548.9H431Q434.1 548.9 434.1 552V560.4" fill="none" stroke="#0c0c0c" stroke-width="3.7"/>
<path d="M585.8 560.4V552Q585.8 548.9 588.9 548.9H607.4Q610.5 548.9 610.5 552V560.4" fill="none" stroke="#0c0c0c" stroke-width="3.7"/>
<!-- dims -->
<path class="t" d="M396 368.4H624.1 M393.5 573.4V590 M626.3 573.4V590 M389.5 571.2V601.6 M629.9 571.2V601.6 M393.5 588.8H626.3 M389.5 600.3H629.9"/>
<path class="f" d="M396 368.4l5.5-1v2z M624.1 368.4l-5.5-1v2z M393.5 588.8l5.5-1v2z M626.3 588.8l-5.5-1v2z M389.5 600.3l5.5-1v2z M629.9 600.3l-5.5-1v2z"/>
<text class="d" x="518.6" y="368.5" textLength="16.4" lengthAdjust="spacingAndGlyphs">838</text>
<text class="d" x="513.7" y="589" textLength="15.4" lengthAdjust="spacingAndGlyphs">852</text>
<text class="d" x="513.4" y="600.1" textLength="14.8" lengthAdjust="spacingAndGlyphs">881</text>
</g>
</svg>
</body>
</html>
